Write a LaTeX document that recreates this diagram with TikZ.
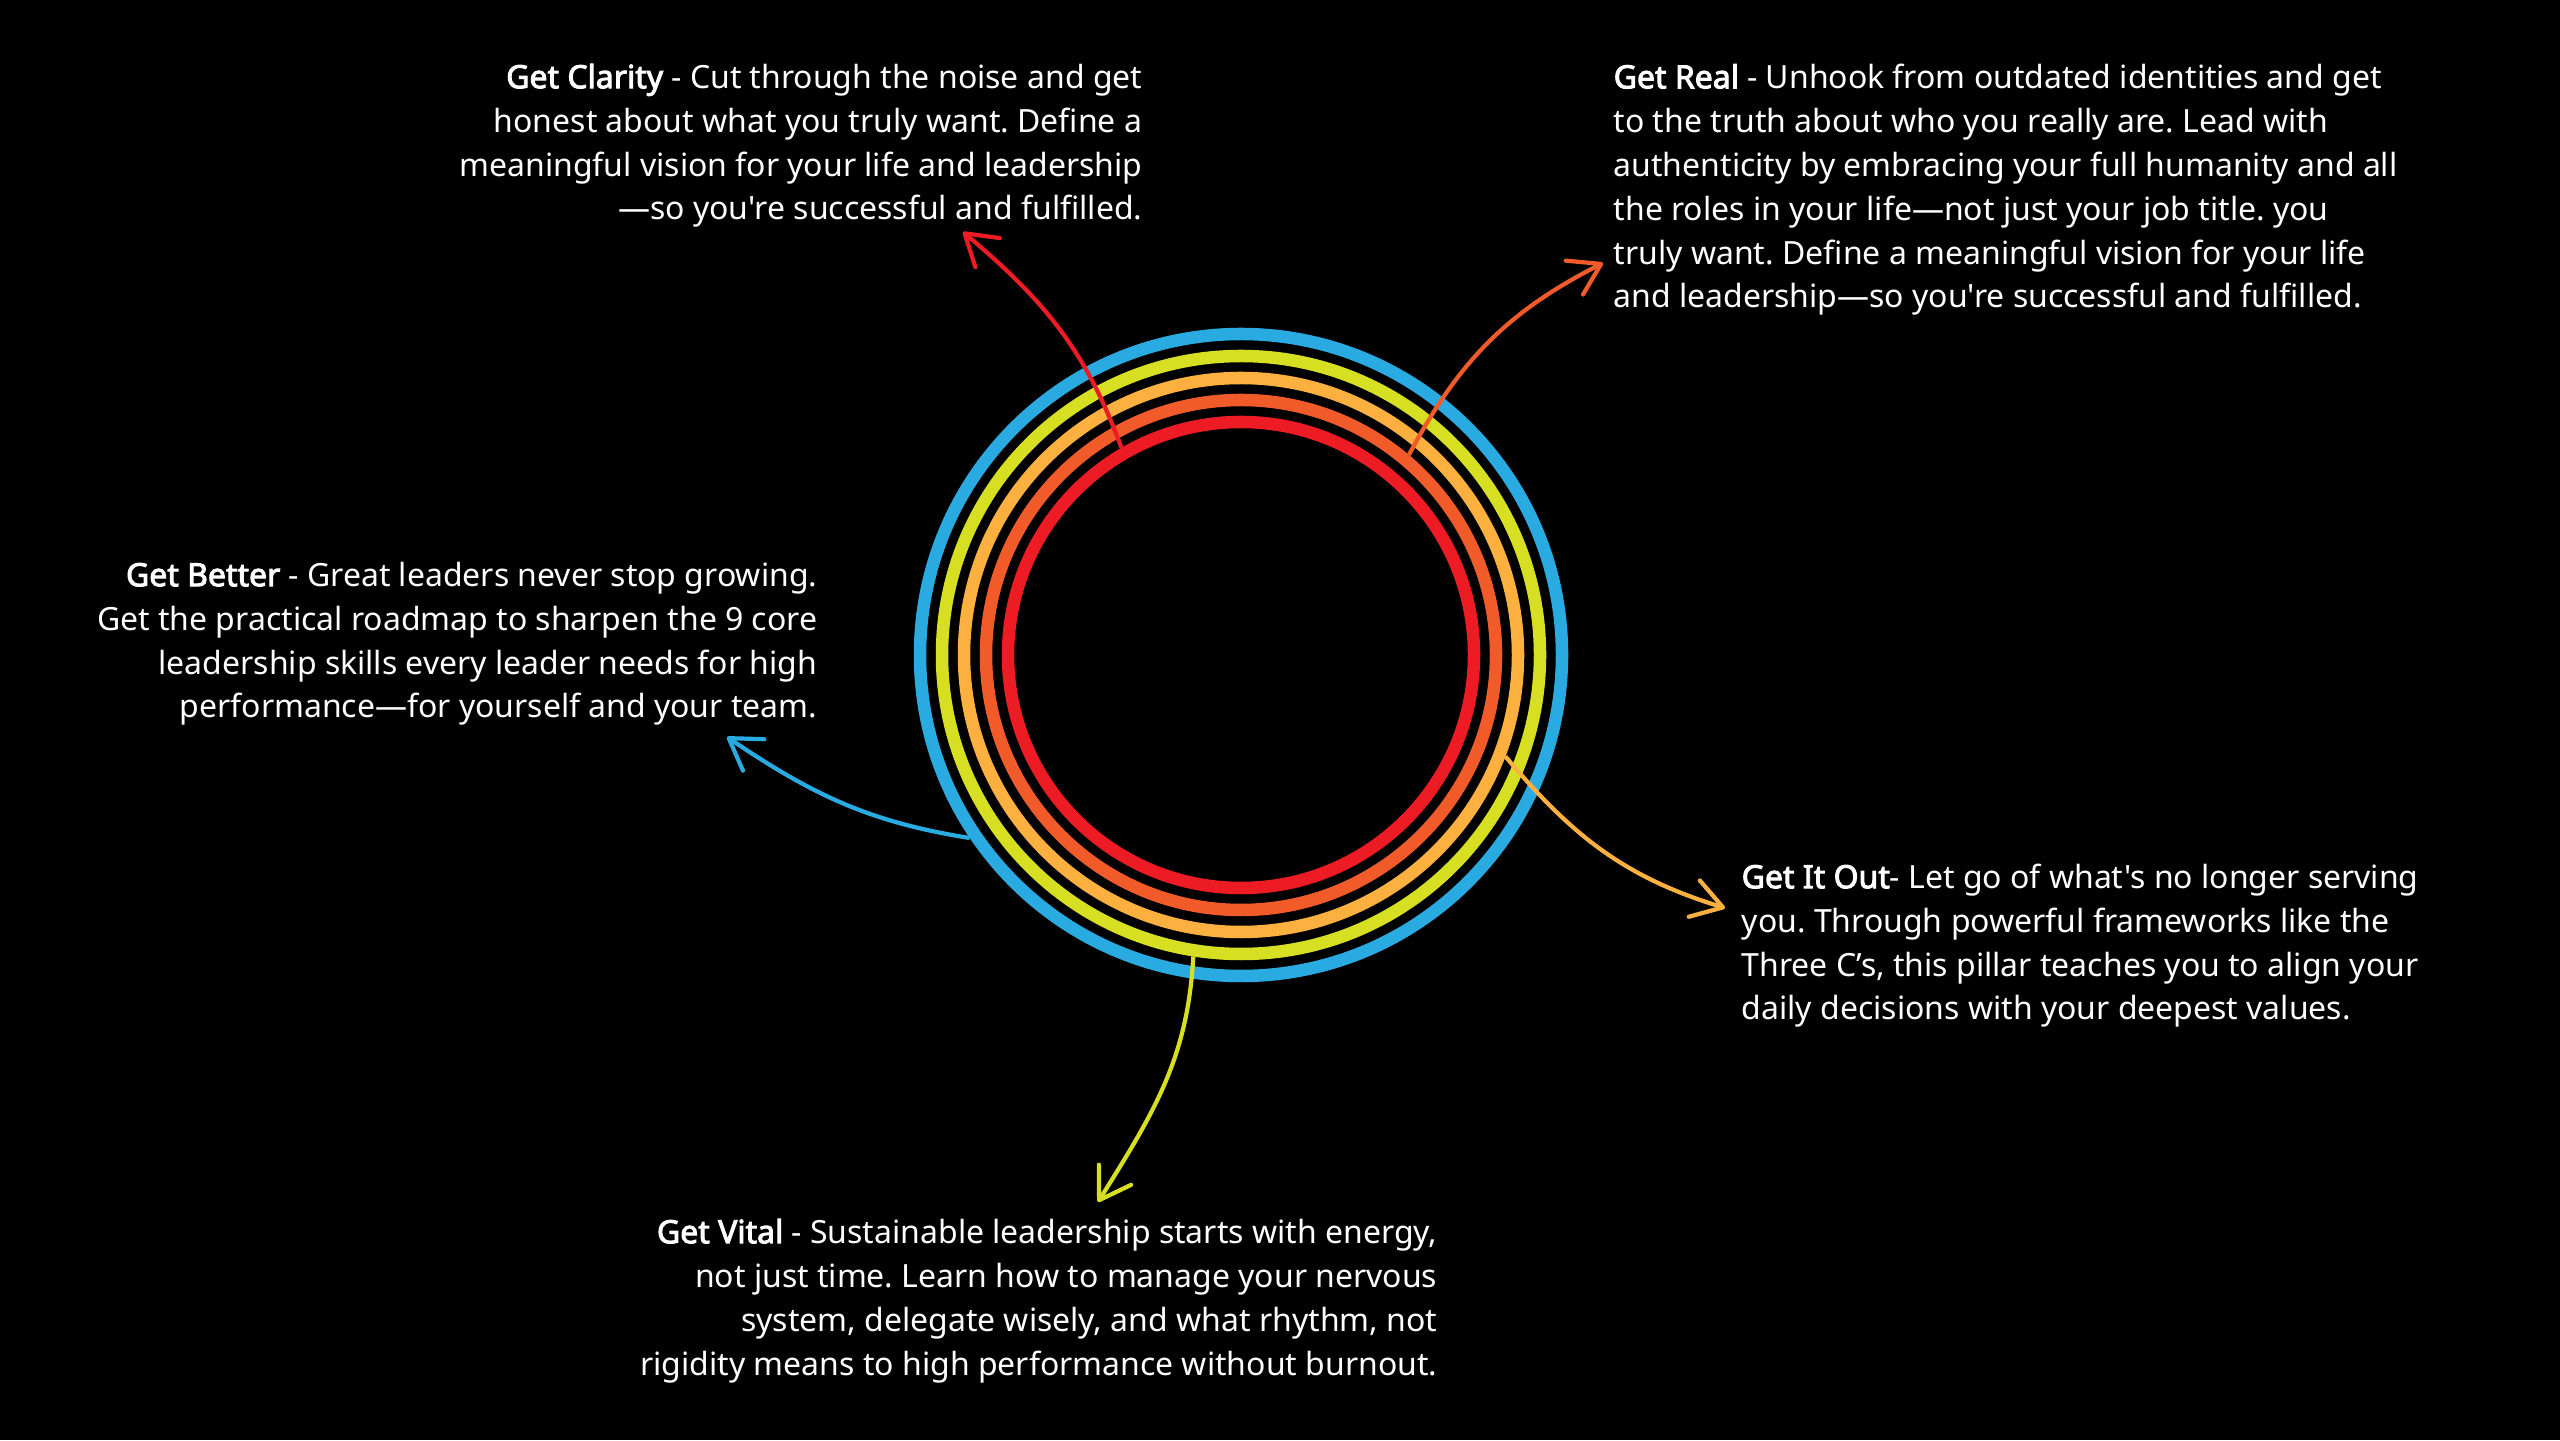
\documentclass[tikz,border=0pt]{standalone}
\usepackage{fontspec}
\newfontfamily\bodyfont{Noto Sans}[BoldFont={Noto Sans}, BoldFeatures={FakeBold=3}]
\usetikzlibrary{arrows.meta}
\definecolor{rblue}{HTML}{29ABE2}
\definecolor{ryellow}{HTML}{D7DF23}
\definecolor{rlorange}{HTML}{FBB040}
\definecolor{rorange}{HTML}{F15A29}
\definecolor{rred}{HTML}{ED1C24}
\tikzset{
  % anello del cerchio
  ring/.style={circle, line width=3.56pt, inner sep=0pt},
  % testo descrittivo (ancorato alla base dell'ultima riga)
  desc/.style={text=white, inner sep=0pt, font=\bodyfont\fontsize{9.1}{12.5}\selectfont\frenchspacing},
  descl/.style={desc, align=left, anchor=base west},
  descr/.style={desc, align=right, anchor=base east},
  % freccia verso il testo
  pointer/.style={line width=1.2pt, -{Straight Barb[length=3mm, width=3.8mm, round]}},
}
\newcommand{\ringat}[3]{%
  \node[ring, draw=#2, minimum size=#3cm] (#1) at (ctr) {};
}

\begin{document}
\begin{tikzpicture}
  \fill[black] (0,0) rectangle (25.6,14.4);
  \useasboundingbox (0,0) rectangle (25.6,14.4);
  \coordinate (ctr) at (12.41,7.85);
  \ringat{rb}{rblue}{6.42}
  \ringat{ry}{ryellow}{5.98}
  \ringat{rl}{rlorange}{5.54}
  \ringat{ro}{rorange}{5.10}
  \ringat{rr}{rred}{4.66}
  \node[descr] (clarity) at (11.43,12.20) {\textbf{Get Clarity} - Cut through the noise and get\\
    honest about what you truly want. Define a\\
    meaningful vision for your life and leadership\\
    —so you're successful and fulfilled.};
  \node[descl] (real) at (16.13,11.32) {\textbf{Get Real} - Unhook from outdated identities and get\\
    to the truth about who you really are. Lead with\\
    authenticity by embracing your full humanity and all\\
    the roles in your life—not just your job title. you\\
    truly want. Define a meaningful vision for your life\\
    and leadership—so you're successful and fulfilled.};
  \node[descr] (better) at (8.18,7.22) {\textbf{Get Better} - Great leaders never stop growing.\\
    Get the practical roadmap to sharpen the 9 core\\
    leadership skills every leader needs for high\\
    performance—for yourself and your team.};
  \node[descl] (itout) at (17.41,4.20) {\textbf{Get It Out}- Let go of what's no longer serving\\
    you. Through powerful frameworks like the\\
    Three C’s, this pillar teaches you to align your\\
    daily decisions with your deepest values.};
  \node[descr] (vital) at (14.38,0.65) {\textbf{Get Vital} - Sustainable leadership starts with energy,\\
    not just time. Learn how to manage your nervous\\
    system, delegate wisely, and what rhythm, not\\
    rigidity means to high performance without burnout.};
  \coordinate (claritytip) at (9.63,12.08);
  \coordinate (realtip) at (16.03,11.77);
  \coordinate (bettertip) at (7.27,7.03);
  \coordinate (itouttip) at (17.25,5.32);
  \coordinate (vitaltip) at (10.98,2.38);
  \draw[pointer, rred] (rr.120) to[out=110, in=-40] (claritytip);
  \draw[pointer, rorange] (ro.50) to[out=62, in=207] (realtip);
  \draw[pointer, rblue] (rb.214) to[out=171, in=-34] (bettertip);
  \draw[pointer, rlorange] (rl.-21) to[out=-50, in=163] (itouttip);
  \draw[pointer, ryellow] (ry.261) to[out=-93, in=58] (vitaltip);
\end{tikzpicture}
\end{document}
